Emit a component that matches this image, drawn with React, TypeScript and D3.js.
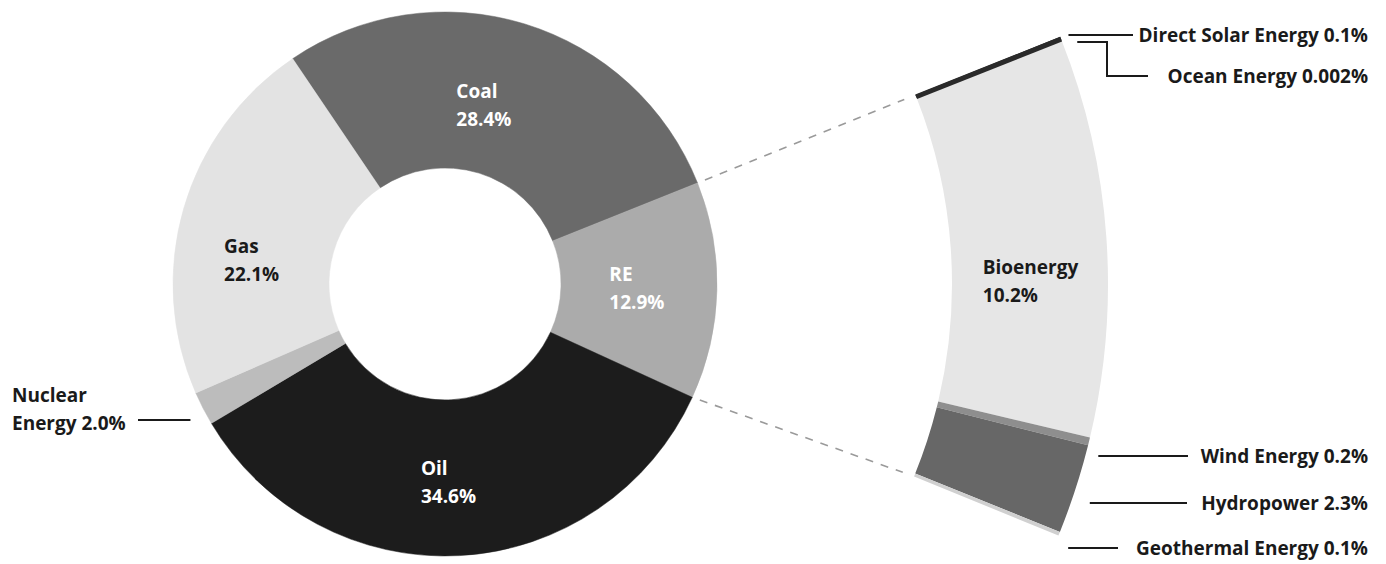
import React, { useEffect, useRef } from 'react';
import * as d3 from 'd3';

const W = 1386;
const H = 564;

// Main donut: primary energy supply shares
const mainCategories = ['Coal', 'RE', 'Oil', 'Nuclear Energy', 'Gas'];
const mainValues = [28.4, 12.9, 34.6, 2.0, 22.1];
const mainValueLabels = ['28.4%', '12.9%', '34.6%', '2.0%', '22.1%'];

// Renewable energy breakdown (exploded band)
const reCategories = ['Direct Solar Energy', 'Ocean Energy', 'Bioenergy', 'Wind Energy', 'Hydropower', 'Geothermal Energy'];
const reValues = [0.1, 0.002, 10.2, 0.2, 2.3, 0.1];
const reValueLabels = ['0.1%', '0.002%', '10.2%', '0.2%', '2.3%', '0.1%'];

// ---- styles / layout (kept apart from data) ----
const mainColors: Record<string, string> = {
  Coal: '#6a6a6a',
  RE: '#ababab',
  Oil: '#1c1c1c',
  'Nuclear Energy': '#bcbcbc',
  Gas: '#e3e3e3',
};
const reColors: Record<string, string> = {
  'Direct Solar Energy': '#2a2a2a',
  'Ocean Energy': '#2a2a2a',
  Bioenergy: '#e6e6e6',
  'Wind Energy': '#8e8e8e',
  Hydropower: '#676767',
  'Geothermal Energy': '#d0d0d0',
};
const whiteText = new Set(['Coal', 'RE', 'Oil']);
const FONT = "'Open Sans', 'DejaVu Sans', sans-serif";
const FS = 19;
const LINE = 28;

const deg = (d: number) => (d * Math.PI) / 180;

export default function App() {
  const ref = useRef<SVGSVGElement | null>(null);

  useEffect(() => {
    const svg = d3.select(ref.current);
    svg.selectAll('*').remove();

    const cx = 445;
    const cy = 284;
    const r0 = 116;
    const r1 = 272;
    const start = deg(-34.06);

    const pie = d3
      .pie<number>()
      .sort(null)
      .value((d) => d)
      .startAngle(start)
      .endAngle(start + Math.PI * 2);
    const arcs = pie(mainValues);
    const arc = d3.arc<d3.PieArcDatum<number>>().innerRadius(r0).outerRadius(r1);

    const g = svg.append('g').attr('transform', `translate(${cx},${cy})`);
    g.selectAll('path.main')
      .data(arcs)
      .join('path')
      .attr('class', 'main')
      .attr('d', arc as any)
      .attr('fill', (_, i) => mainColors[mainCategories[i]])
      .attr('stroke', (_, i) => mainColors[mainCategories[i]])
      .attr('stroke-width', 0.5);

    // Band (exploded RE)
    const reIdx = mainCategories.indexOf('RE');
    const bandStart = deg(68.1);
    const bandEnd = deg(112.3);
    const br0 = 507;
    const br1 = 663;
    const bandPie = d3
      .pie<number>()
      .sort(null)
      .value((d) => d)
      .startAngle(bandStart)
      .endAngle(bandEnd);
    const bandArcs = bandPie(reValues);
    const bandArc = d3.arc<d3.PieArcDatum<number>>().innerRadius(br0).outerRadius(br1);
    g.selectAll('path.band')
      .data(bandArcs)
      .join('path')
      .attr('class', 'band')
      .attr('d', bandArc as any)
      .attr('fill', (_, i) => reColors[reCategories[i]]);
    // solar edge line emphasised (thin segment)
    const solar = bandArcs[0];
    const pt = (a: number, r: number): [number, number] => [Math.sin(a) * r, -Math.cos(a) * r];
    g.append('line')
      .attr('x1', pt(solar.startAngle + 0.004, br0)[0])
      .attr('y1', pt(solar.startAngle + 0.004, br0)[1])
      .attr('x2', pt(solar.startAngle + 0.004, br1)[0])
      .attr('y2', pt(solar.startAngle + 0.004, br1)[1])
      .attr('stroke', reColors['Direct Solar Energy'])
      .attr('stroke-width', 5);

    // Dashed connectors
    const re = arcs[reIdx];
    const conns = [
      [pt(re.startAngle, r1), pt(bandStart, br0)],
      [pt(re.endAngle, r1), pt(bandEnd, br0)],
    ];
    conns.forEach(([a, b]) => {
      const dx = b[0] - a[0];
      const dy = b[1] - a[1];
      const L = Math.hypot(dx, dy);
      const gap1 = 8;
      const gap2 = 12;
      g.append('line')
        .attr('x1', a[0] + (dx / L) * gap1)
        .attr('y1', a[1] + (dy / L) * gap1)
        .attr('x2', b[0] - (dx / L) * gap2)
        .attr('y2', b[1] - (dy / L) * gap2)
        .attr('stroke', '#9a9a9a')
        .attr('stroke-width', 1.6)
        .attr('stroke-dasharray', '8 8');
    });

    // Inner labels (two lines, left aligned, block centred on slice centroid + offset)
    const labelArc = d3.arc<d3.PieArcDatum<number>>().innerRadius(r0).outerRadius(r1);
    const mainOffsets: Record<string, [number, number]> = {
      Coal: [-18, 6],
      RE: [-2, -1],
      Oil: [-7, 4],
      Gas: [-7, 30],
    };
    const addBlock = (
      parent: d3.Selection<SVGGElement, unknown, null, undefined>,
      lines: string[],
      centerX: number,
      centerY: number,
      fill: string
    ) => {
      const t = parent
        .append('text')
        .attr('font-family', FONT)
        .attr('font-size', FS)
        .attr('font-weight', 700)
        .attr('fill', fill);
      lines.forEach((s, k) => {
        t.append('tspan').attr('x', 0).attr('y', k * LINE).text(s);
      });
      const node = t.node() as SVGTextElement;
      let w = 0;
      t.selectAll('tspan').each(function () {
        w = Math.max(w, (this as SVGTSpanElement).getComputedTextLength());
      });
      const left = centerX - w / 2;
      // vertical: cap top of line 1 ~ baseline-14, baseline of last line
      const blockTop = -14;
      const blockBottom = (lines.length - 1) * LINE;
      const top = centerY - (blockBottom - blockTop) / 2 - blockTop;
      t.selectAll('tspan').attr('x', left).attr('y', (_, k) => top + k * LINE);
      return node;
    };

    arcs.forEach((a, i) => {
      const name = mainCategories[i];
      if (name === 'Nuclear Energy') return;
      const [x, y] = labelArc.centroid(a);
      const off = mainOffsets[name] || [0, 0];
      addBlock(g as any, [name, mainValueLabels[i]], x + off[0], y + off[1], whiteText.has(name) ? '#ffffff' : '#1a1a1a');
    });

    // Bioenergy label inside band
    const bioIdx = reCategories.indexOf('Bioenergy');
    const bio = bandArcs[bioIdx];
    const bioC = d3.arc<d3.PieArcDatum<number>>().innerRadius(br0).outerRadius(br1).centroid(bio);
    addBlock(g as any, ['Bioenergy', reValueLabels[bioIdx]], bioC[0] + 2, bioC[1] + 39, '#1a1a1a');

    // Nuclear label (outside, left)
    const nucIdx = mainCategories.indexOf('Nuclear Energy');
    const gTop = svg.append('g');
    const nucLineY = 420;
    const nucCircleX = cx - Math.sqrt(r1 * r1 - (nucLineY - cy) ** 2);
    gTop
      .append('line')
      .attr('x1', 138)
      .attr('x2', nucCircleX - 19)
      .attr('y1', nucLineY)
      .attr('y2', nucLineY)
      .attr('stroke', '#1a1a1a')
      .attr('stroke-width', 2);
    const nt = gTop
      .append('text')
      .attr('font-family', FONT)
      .attr('font-size', FS)
      .attr('font-weight', 700)
      .attr('fill', '#1a1a1a');
    nt.append('tspan').attr('x', 12).attr('y', 402).text('Nuclear');
    nt.append('tspan').attr('x', 12).attr('y', 430).text(`Energy ${mainValueLabels[nucIdx]}`);

    // Right labels with leaders
    const textRight = 1368;
    const rightLayout: Record<string, { y: number; gap: number; x2: number }> = {
      'Direct Solar Energy': { y: 35, gap: 9, x2: 1133 },
      'Wind Energy': { y: 456, gap: 13, x2: 1188 },
      Hydropower: { y: 503, gap: 19, x2: 1187 },
      'Geothermal Energy': { y: 548, gap: 15, x2: 1118 },
    };
    const circleX = (y: number) => cx + Math.sqrt(br1 * br1 - (y - cy) ** 2);
    reCategories.forEach((name, i) => {
      if (name === 'Bioenergy') return;
      const text = `${name} ${reValueLabels[i]}`;
      if (name === 'Ocean Energy') {
        const y0 = 42;
        const x0 = circleX(y0) + 15;
        const yElbow = 76;
        gTop
          .append('path')
          .attr('d', `M${x0},${y0}H1107V${yElbow}H1148`)
          .attr('fill', 'none')
          .attr('stroke', '#1a1a1a')
          .attr('stroke-width', 2);
        gTop
          .append('text')
          .attr('x', textRight)
          .attr('y', yElbow + 7)
          .attr('text-anchor', 'end')
          .attr('font-family', FONT)
          .attr('font-size', FS)
          .attr('font-weight', 700)
          .attr('fill', '#1a1a1a')
          .text(text);
        return;
      }
      const L = rightLayout[name];
      gTop
        .append('line')
        .attr('x1', circleX(L.y) + L.gap)
        .attr('x2', L.x2)
        .attr('y1', L.y)
        .attr('y2', L.y)
        .attr('stroke', '#1a1a1a')
        .attr('stroke-width', 2);
      gTop
        .append('text')
        .attr('x', textRight)
        .attr('y', L.y + 7)
        .attr('text-anchor', 'end')
        .attr('font-family', FONT)
        .attr('font-size', FS)
        .attr('font-weight', 700)
        .attr('fill', '#1a1a1a')
        .text(text);
    });
  }, []);

  return (
    <svg
      ref={ref}
      width={W}
      height={H}
      style={{ position: 'absolute', left: 0, top: 0, background: '#ffffff', display: 'block' }}
    />
  );
}
